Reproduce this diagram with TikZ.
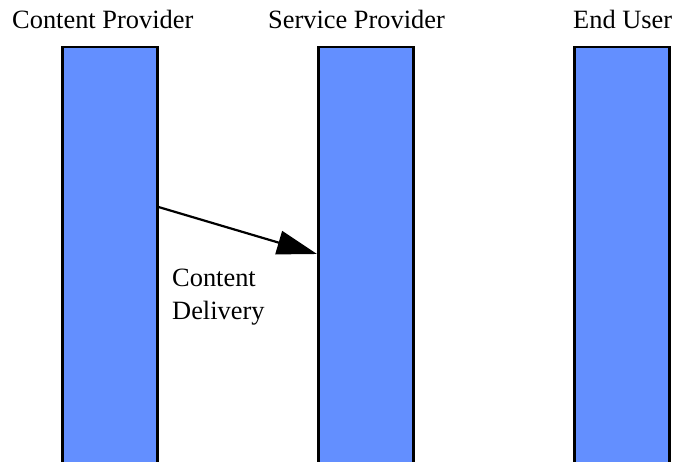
\documentclass[tikz,border=0pt]{standalone}
\usepackage{fontspec}
\setmainfont{Liberation Serif}
\usetikzlibrary{arrows.meta}
\definecolor{barblue}{RGB}{99,143,255}
\tikzset{
  lane/.style={draw=black, line width=2.5pt, fill=barblue, rectangle, inner sep=0pt,
               minimum width=95pt, minimum height=440pt, anchor=north west},
  lanetitle/.style={inner sep=0pt, anchor=base west,
               font=\fontsize{26.4pt}{28pt}\selectfont},
  msg/.style={line width=2.2pt, -{Triangle[length=40pt,width=24pt]}},
  msglabel/.style={inner sep=0pt, anchor=north west, align=left,
               font=\fontsize{26.4pt}{33pt}\selectfont}
}
\begin{document}
\begin{tikzpicture}[x=1pt,y=-1pt]
  \useasboundingbox (0,0) rectangle (673,462);
  \clip (0,0) rectangle (673,462);
  % lane titles
  \node[lanetitle] (tcp) at (12,29) {Content Provider};
  \node[lanetitle] (tsp) at (268,29) {Service Provider};
  \node[lanetitle] (teu) at (573,29) {End User};
  % lanes (run off the bottom edge)
  \node[lane] (cp) at (61,46) {};
  \node[lane] (sp) at (317,46) {};
  \node[lane] (eu) at (573,46) {};
  % content delivery message
  \coordinate (from) at ([yshift=-161pt]cp.north east);
  \coordinate (to) at ([yshift=-208pt]sp.north west);
  \draw[msg] (from) -- (to);
  \node[msglabel] (lbl) at (172,269) {Content\\Delivery};
\end{tikzpicture}
\end{document}
